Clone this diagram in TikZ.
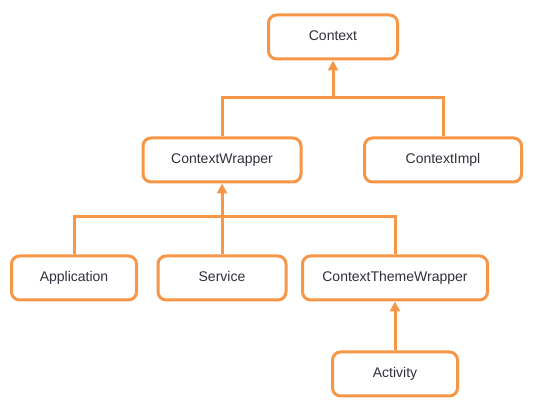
\documentclass[tikz,border=0pt]{standalone}
\usepackage{fontspec}
\setmainfont{Liberation Sans}
\usetikzlibrary{arrows.meta}
\definecolor{boxorange}{HTML}{F79646}
\definecolor{boxtext}{HTML}{30303A}
\tikzset{%
    box/.style={draw=boxorange, line width=3pt, rounded corners=8pt, fill=white,
    	minimum height=44pt, inner sep=0pt, text=boxtext,
    	text height=10pt, text depth=3pt,
    	font=\fontsize{14}{16}\selectfont},
    link/.style={draw=boxorange, line width=3pt},
    up/.style={link, -{Triangle[width=10pt, length=10pt]}}
}

\begin{document}
\begin{tikzpicture}[x=1pt, y=-1pt]
  \useasboundingbox (0,0) rectangle (550,406);

  \node (ctx) [box, minimum width=129pt] at (333,37) {Context};
  \node (wrap) [box, minimum width=158pt] at (222,160) {ContextWrapper};
  \node (impl) [box, minimum width=157pt] at (443,160) {ContextImpl};
  \node (app) [box, minimum width=125pt] at (74,278) {Application};
  \node (serv) [box, minimum width=128pt] at (222,278) {Service};
  \node (ctw) [box, minimum width=185pt] at (395,278) {ContextThemeWrapper};
  \node (act) [box, minimum width=125pt] at (395,374) {Activity};

  \coordinate (j1) at (333,98);
  \coordinate (j2) at (222,217);

  \draw [link] (wrap.north) |- (j1) -| (impl.north);
  \draw [up] (j1) -- (ctx.south);
  \draw [link] (app.north) |- (j2) -| (ctw.north);
  \draw [up] (serv.north) -- (wrap.south);
  \draw [up] (act.north) -- (ctw.south);
\end{tikzpicture}
\end{document}
